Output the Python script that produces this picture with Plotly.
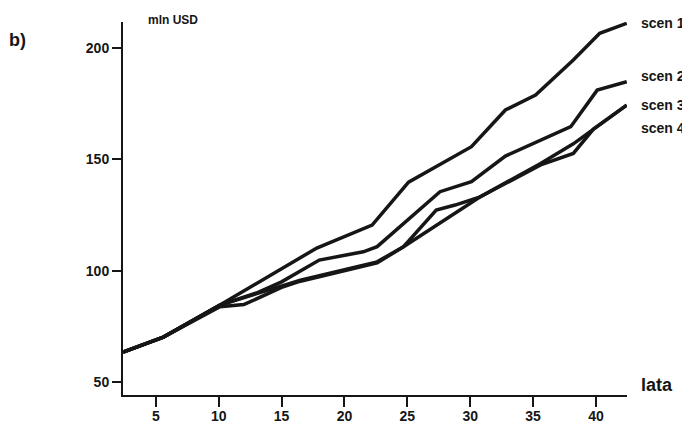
import plotly.graph_objects as go

# Data (x = year "lata", y = mln USD)
scen1_x = [2.4, 5.6, 10.1, 17.8, 22.2, 25.1, 30.1, 32.8, 35.2, 38.2, 40.3, 42.45]
scen1_y = [63.5, 70.2, 84.6, 110.2, 120.5, 139.8, 155.7, 172.2, 178.9, 194.6, 206.6, 211.1]

scen2_x = [2.4, 5.6, 10.1, 13.0, 15.0, 18.0, 21.5, 22.6, 27.6, 30.1, 32.8, 38.0, 40.1, 42.45]
scen2_y = [63.5, 70.2, 84.6, 90.0, 95.0, 104.8, 108.5, 110.8, 135.5, 140.0, 151.5, 164.7, 181.1, 184.9]

scen3_x = [2.4, 5.6, 10.1, 13.0, 16.5, 22.6, 24.7, 27.3, 28.8, 30.8, 35.6, 38.2, 42.45]
scen3_y = [63.5, 70.2, 84.6, 89.5, 95.8, 104.0, 110.8, 127.2, 129.5, 133.2, 148.2, 157.0, 174.4]

scen4_x = [2.4, 5.6, 10.1, 12.0, 15.0, 16.5, 22.6, 24.7, 30.8, 35.6, 38.2, 39.8, 42.45]
scen4_y = [63.5, 70.2, 83.8, 84.8, 92.5, 95.3, 103.5, 110.8, 133.2, 147.5, 152.7, 163.6, 174.4]

series_names = ["scen 1", "scen 2", "scen 3", "scen 4"]
label_y = [211.3, 187.4, 174.4, 164.0]

x_ticks = [5, 10, 15, 20, 25, 30, 35, 40]
y_ticks = [50, 100, 150, 200]

FONT = "Liberation Sans, Arial, sans-serif"
INK = "#161616"

fig = go.Figure()
for xs, ys, name in zip([scen1_x, scen2_x, scen3_x, scen4_x],
                        [scen1_y, scen2_y, scen3_y, scen4_y], series_names):
    fig.add_trace(go.Scatter(x=xs, y=ys, mode="lines", name=name,
                             line=dict(color=INK, width=3.5), showlegend=False))

annots = []
for name, ly in zip(series_names, label_y):
    annots.append(dict(x=1.0, xref="paper", xanchor="left", xshift=12,
                       y=ly, yref="y", yanchor="middle", text=name, showarrow=False,
                       font=dict(family=FONT, size=14, color=INK, weight="bold")))
annots.append(dict(x=1.0, xref="paper", xanchor="left", xshift=12,
                   y=0.0, yref="paper", yanchor="middle", yshift=10, text="lata",
                   showarrow=False,
                   font=dict(family=FONT, size=18, color=INK, weight="bold")))
annots.append(dict(x=0.0, xref="paper", xanchor="left", xshift=23,
                   y=1.0, yref="paper", yanchor="middle", yshift=2, text="mln USD",
                   showarrow=False,
                   font=dict(family=FONT, size=12, color=INK, weight="bold")))
annots.append(dict(x=0.0, xref="paper", xanchor="left", xshift=-116,
                   y=1.0, yref="paper", yanchor="top", yshift=-6, text="b)",
                   showarrow=False,
                   font=dict(family=FONT, size=18, color=INK, weight="bold")))

# page body has an 8px margin, so the figure is 8px smaller and left/top margins shifted
fig.update_layout(
    width=682, height=435,
    margin=dict(l=115, r=63, t=14, b=48),
    paper_bgcolor="white", plot_bgcolor="white",
    annotations=annots,
    font=dict(family=FONT, color=INK),
)
fig.update_xaxes(range=[2.39, 42.47], showgrid=False, zeroline=False,
                 showline=True, linecolor=INK, linewidth=2,
                 ticks="outside", ticklen=10, tickwidth=2, tickcolor=INK,
                 ticklabelstandoff=-3,
                 tickvals=x_ticks, ticktext=[str(v) for v in x_ticks],
                 tickfont=dict(family=FONT, size=14, color=INK, weight="bold"))
fig.update_yaxes(range=[44.2, 211.7], showgrid=False, zeroline=False,
                 showline=True, linecolor=INK, linewidth=2,
                 ticks="outside", ticklen=9, tickwidth=2, tickcolor=INK,
                 tickvals=y_ticks, ticktext=[str(v) for v in y_ticks],
                 tickfont=dict(family=FONT, size=14, color=INK, weight="bold"))

fig.write_html("out.html")
